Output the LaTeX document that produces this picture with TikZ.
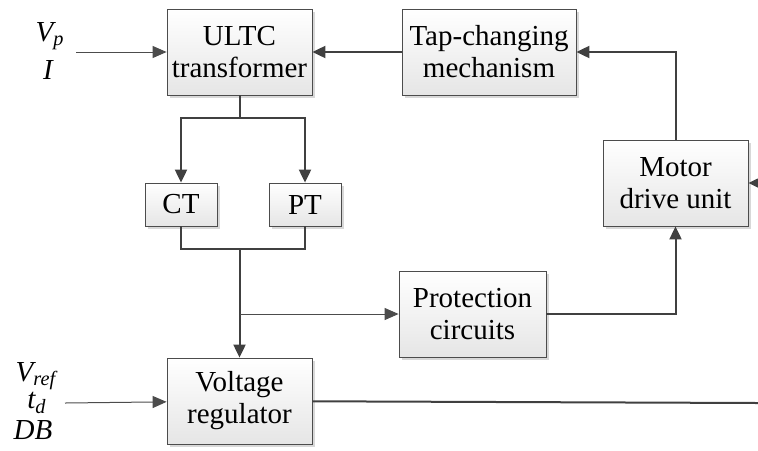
\documentclass[tikz,border=0pt]{standalone}
\usepackage{fontspec}
\setmainfont{Liberation Serif}
\usetikzlibrary{arrows.meta,shadows}

\tikzset{
  block/.style={draw=black!70, thin, top color=white, bottom color=black!10,
    drop shadow={shadow xshift=1.5pt, shadow yshift=-1.5pt, fill=black!30, opacity=0.5},
    minimum width=72.5pt, minimum height=43pt, align=center, inner sep=2pt,
    font=\fontsize{14.5}{16}\selectfont},
  smallblock/.style={block, minimum width=36pt, minimum height=21.5pt},
  sig/.style={font=\fontsize{14.5}{16}\selectfont\itshape},
  line/.style={draw=black!75, line width=1pt, -{Triangle[length=6.5pt,width=6pt]}},
  plain/.style={draw=black!75, line width=1pt},
  thinarrow/.style={draw=black!70, line width=0.5pt, -{Triangle[length=7pt,width=6pt]}}
}

\begin{document}
\begin{tikzpicture}[x=0.5pt,y=-0.5pt]
    \useasboundingbox (0,0) rectangle (758,450);

    % blocks
    \node[block] (ultc) at (239.5,52) {ULTC\\transformer};
    \node[block, minimum width=87pt] (tap) at (489,52) {Tap-changing\\mechanism};
    \node[block] (motor) at (675.5,183) {Motor\\drive unit};
    \node[smallblock] (ct) at (181,204.5) {CT};
    \node[smallblock] (pt) at (305,204.5) {PT};
    \node[block, minimum width=73.5pt] (prot) at (472.5,314) {Protection\\circuits};
    \node[block] (vr) at (239.5,401) {Voltage\\regulator};

    % input signals
    \node[sig] (vp) at (50,36) {V\textsubscript{p}};
    \node[sig] (cur) at (48,70) {I};
    \node[sig] (vref) at (36,376) {V\textsubscript{ref}};
    \node[sig] (td) at (37,403) {t\textsubscript{d}};
    \node[sig] (db) at (33,430) {DB};

    \coordinate (in1) at (76,52);
    \coordinate (in2) at (65,403);
    \coordinate (split) at (239.5,118);
    \coordinate (join) at (239.5,249);
    \coordinate (edge1) at (758,183);
    \coordinate (edge2) at (758,403);

    % connections
    \draw[thinarrow] (in1) -- (ultc);
    \draw[line] (tap) -- (ultc);
    \draw[line] (motor) |- (tap);
    \draw[line] (edge1) -- (motor);
    \draw[plain] (ultc) -- (split);
    \draw[line] (split) -| (ct);
    \draw[line] (split) -| (pt);
    \draw[plain] (ct) |- (join) -| (pt);
    \draw[line] (join) -- (vr);
    \draw[thinarrow] (join |- prot.west) -- (prot);
    \draw[line] (prot) -| (motor);
    \draw[thinarrow] (in2) -- (vr);
    \draw[plain] (vr) -- (edge2);
\end{tikzpicture}
\end{document}
